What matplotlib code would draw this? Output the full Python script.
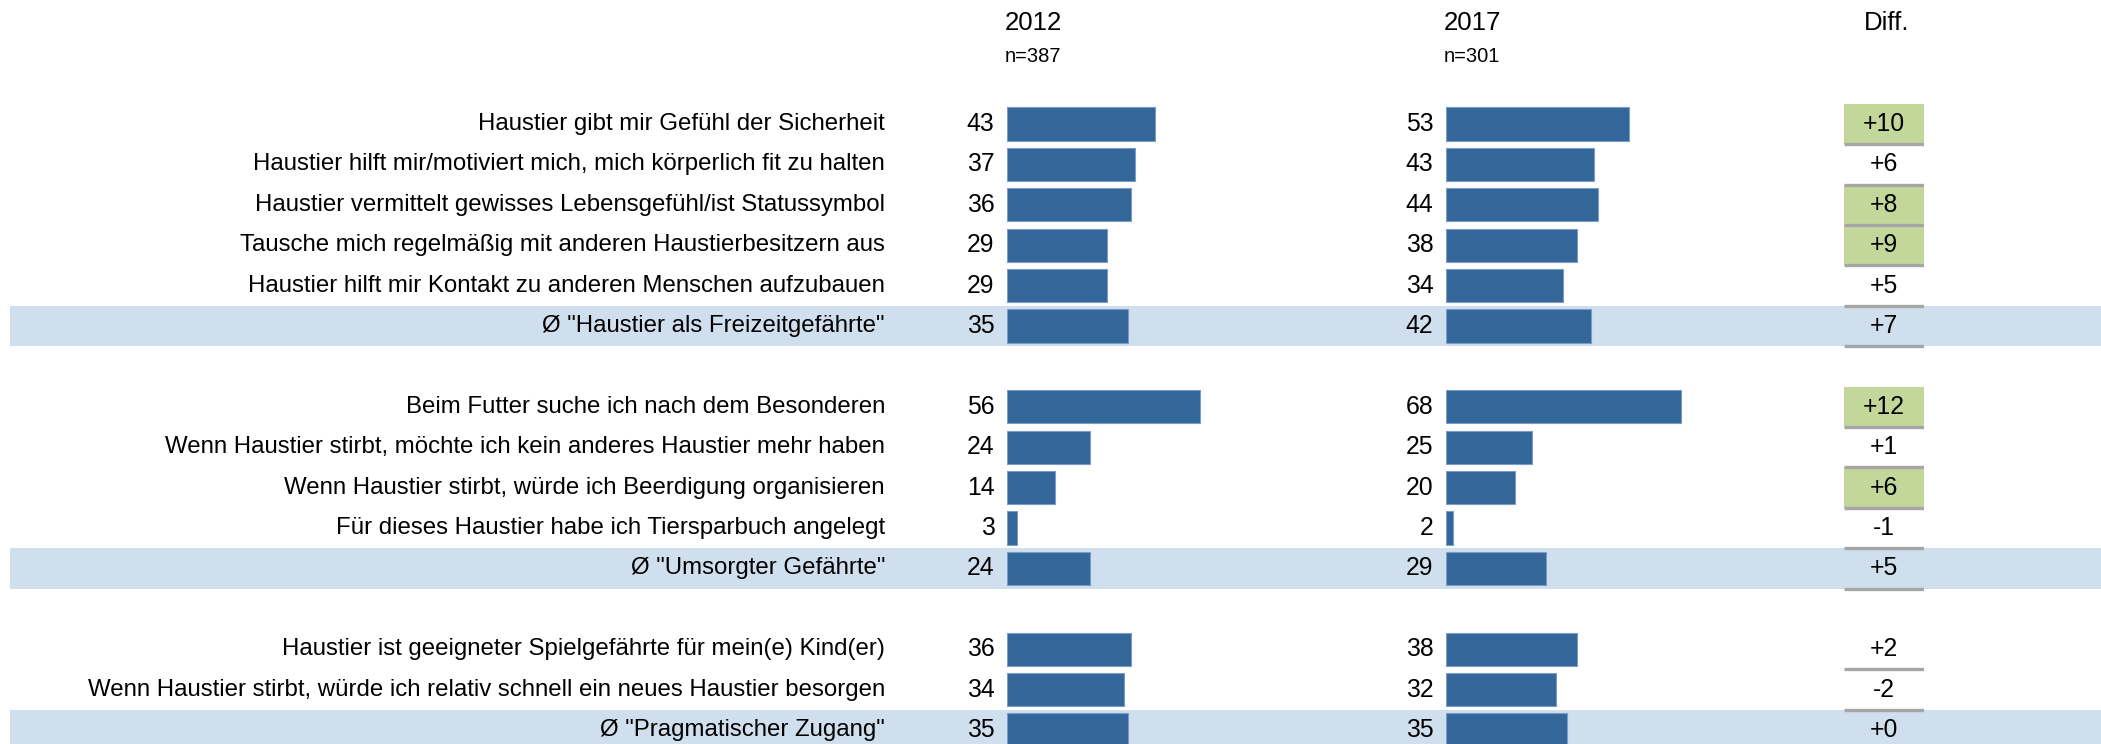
import matplotlib.pyplot as plt

plt.rcParams['font.family'] = ['Liberation Sans', 'DejaVu Sans']

# Data
labels = [
    "Haustier gibt mir Gefühl der Sicherheit",
    "Haustier hilft mir/motiviert mich, mich körperlich fit zu halten",
    "Haustier vermittelt gewisses Lebensgefühl/ist Statussymbol",
    "Tausche mich regelmäßig mit anderen Haustierbesitzern aus",
    "Haustier hilft mir Kontakt zu anderen Menschen aufzubauen",
    'Ø "Haustier als Freizeitgefährte"',
    "Beim Futter suche ich nach dem Besonderen",
    "Wenn Haustier stirbt, möchte ich kein anderes Haustier mehr haben",
    "Wenn Haustier stirbt, würde ich Beerdigung organisieren",
    "Für dieses Haustier habe ich Tiersparbuch angelegt",
    'Ø "Umsorgter Gefährte"',
    "Haustier ist geeigneter Spielgefährte für mein(e) Kind(er)",
    "Wenn Haustier stirbt, würde ich relativ schnell ein neues Haustier besorgen",
    'Ø "Pragmatischer Zugang"',
]
vals_2012 = [43, 37, 36, 29, 29, 35, 56, 24, 14, 3, 24, 36, 34, 35]
vals_2017 = [53, 43, 44, 38, 34, 42, 68, 25, 20, 2, 29, 38, 32, 35]
diffs = ["+10", "+6", "+8", "+9", "+5", "+7", "+12", "+1", "+6", "-1", "+5", "+2", "-2", "+0"]
significant = [True, False, True, True, False, False, True, False, True, False, False, False, False, False]
is_average = [False, False, False, False, False, True, False, False, False, False, True, False, False, True]
# row slot of each item (blank slots separate the groups)
rows = [0, 1, 2, 3, 4, 5, 7, 8, 9, 10, 11, 13, 14, 15]

years = ["2012", "2017"]
n_sizes = ["n=387", "n=301"]

BAR = '#336699'
BAND = '#D0DFEE'
GREEN = '#C4D79B'
GRAY = '#A6A6A6'

W, H = 2101, 744
fig = plt.figure(figsize=(W / 100, H / 100), dpi=100)
fig.patch.set_facecolor('white')

pitch = 40.4
y0 = 124
ylim = ((H - y0) / pitch, -y0 / pitch)

# background axes in pixel units along x
bg = fig.add_axes([0, 0, 1, 1])
bg.set_xlim(0, W)
bg.set_ylim(*ylim)
bg.axis('off')

for r, lab, avg in zip(rows, labels, is_average):
    if avg:
        bg.axhspan(r - 0.5, r + 0.5, xmin=10 / W, xmax=1, color=BAND, lw=0, zorder=0)
    bg.text(885, r, lab, ha='right', va='center', fontsize=17.3, color='black')

px_per_unit = 3.45
ax_w = 420
for left, vals in [(1007, vals_2012), (1446, vals_2017)]:
    ax = fig.add_axes([left / W, 0, ax_w / W, 1])
    ax.set_xlim(0, ax_w / px_per_unit)
    ax.set_ylim(*ylim)
    ax.axis('off')
    ax.patch.set_alpha(0)
    ax.barh(rows, vals, height=0.82, color=BAR, edgecolor='#7A9CC6', linewidth=0.8)
    for r, v in zip(rows, vals):
        ax.annotate(str(v), (0, r), xytext=(-9, 0), textcoords='offset points',
                    ha='right', va='center', fontsize=17.8)

# diff column
dx = fig.add_axes([1844 / W, 0, 80 / W, 1])
dx.set_xlim(0, 1)
dx.set_ylim(*ylim)
dx.axis('off')
dx.patch.set_alpha(0)
for r, d, sig in zip(rows, diffs, significant):
    if sig:
        dx.barh(r, 1, left=0, height=1, color=GREEN, lw=0)
    dx.hlines(r + 0.5, 0, 1, color=GRAY, lw=2.4)
    dx.text(0.5, r, d, ha='center', va='center', fontsize=17.8)

# headers
for x, yr, n in [(1005, years[0], n_sizes[0]), (1444, years[1], n_sizes[1])]:
    fig.text(x / W, 1 - 23 / H, yr, ha='left', va='center', fontsize=18.5)
    fig.text(x / W, 1 - 57 / H, n, ha='left', va='center', fontsize=14.5)
fig.text(1887 / W, 1 - 23 / H, "Diff.", ha='center', va='center', fontsize=18.5)

fig.savefig('out.png', dpi=100, facecolor='white')
